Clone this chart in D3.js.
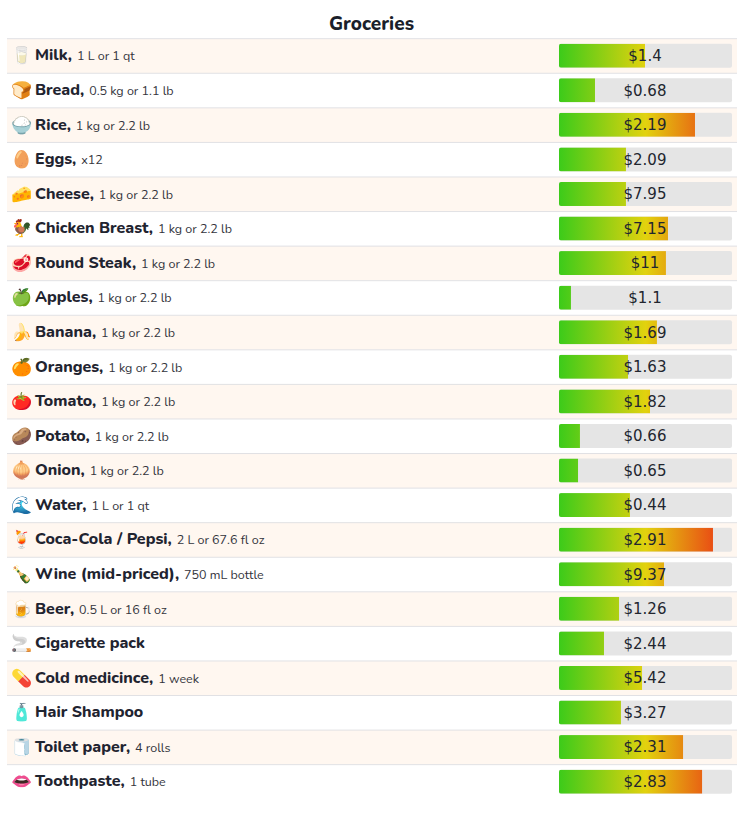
<!DOCTYPE html>
<html><head><meta charset="utf-8">
<script src="https://cdnjs.cloudflare.com/ajax/libs/d3/7.8.5/d3.min.js"></script>
<style>html,body{margin:0;padding:0;background:#fff}svg{display:block}</style>
</head><body><div id="c"></div>
<script>
const items = ["Milk","Bread","Rice","Eggs","Cheese","Chicken Breast","Round Steak","Apples","Banana","Oranges","Tomato","Potato","Onion","Water","Coca-Cola / Pepsi","Wine (mid-priced)","Beer","Cigarette pack","Cold medicince","Hair Shampoo","Toilet paper","Toothpaste"];
const units = ["1 L or 1 qt","0.5 kg or 1.1 lb","1 kg or 2.2 lb","x12","1 kg or 2.2 lb","1 kg or 2.2 lb","1 kg or 2.2 lb","1 kg or 2.2 lb","1 kg or 2.2 lb","1 kg or 2.2 lb","1 kg or 2.2 lb","1 kg or 2.2 lb","1 kg or 2.2 lb","1 L or 1 qt","2 L or 67.6 fl oz","750 mL bottle","0.5 L or 16 fl oz","","1 week","","4 rolls","1 tube"];
const icons = ["🥛","🍞","🍚","🥚","🧀","🐓","🥩","🍏","🍌","🍊","🍅","🥔","🧅","🌊","🍹","🍾","🍺","🚬","💊","🧴","🧻","👄"];
const prices = ["$1.4","$0.68","$2.19","$2.09","$7.95","$7.15","$11","$1.1","$1.69","$1.63","$1.82","$0.66","$0.65","$0.44","$2.91","$9.37","$1.26","$2.44","$5.42","$3.27","$2.31","$2.83"];
const fillPct = [49.7,20.8,78.6,38.7,38.7,63,61.8,6.9,56.6,39.9,52.6,12.1,11,41,89,60.7,34.7,26,48,35.8,71.7,82.7];
const gradColors = ["#3ccb1a","#e2d20e","#eb2a16"];
const gradStops = [0,0.5,1];

const W=745,H=813, rowH=34.57, tableTop=38.7, left=7, right=737, barX0=559, barX1=732;
const svg=d3.select("#c").append("svg").attr("width",W).attr("height",H);
const defs=svg.append("defs");
const grad=defs.append("linearGradient").attr("id","g").attr("gradientUnits","userSpaceOnUse").attr("x1",barX0).attr("x2",barX1).attr("y1",0).attr("y2",0);
grad.selectAll("stop").data(gradColors).join("stop").attr("offset",(d,i)=>gradStops[i]).attr("stop-color",d=>d);
defs.append("clipPath").attr("id","track").append("rect").attr("x",barX0).attr("y",5).attr("width",barX1-barX0).attr("height",24).attr("rx",2);
const y=d3.scaleBand().domain(d3.range(items.length)).range([tableTop,tableTop+rowH*items.length]);
const x=d3.scaleLinear().domain([0,100]).range([barX0,barX1]);
const font="Nunito, 'Noto Sans', sans-serif";
svg.append("text").attr("x",371.5).attr("y",30).attr("text-anchor","middle").attr("font-family",font).attr("font-size",19).attr("font-weight",800).attr("fill","#1a1f2b").text("Groceries");
const rows=svg.selectAll("g.r").data(items).join("g").attr("class","r").attr("transform",(d,i)=>`translate(0,${y(i)})`);
rows.append("rect").attr("x",left).attr("width",right-left).attr("height",rowH).attr("fill",(d,i)=>i%2?"#fff":"#fff7f0");
rows.append("line").attr("x1",left).attr("x2",right).attr("y1",0).attr("y2",0).attr("stroke","#e1e1e4").attr("stroke-width",1);
rows.append("text").attr("x",21.5).attr("y",rowH/2+5.5).attr("text-anchor","middle").attr("font-size",17).attr("font-family","'Noto Color Emoji',sans-serif").text((d,i)=>icons[i]);
const t=rows.append("text").attr("x",35).attr("y",rowH/2+4.5).attr("font-family",font).attr("fill","#1f2430");
t.append("tspan").attr("font-size",16).attr("font-weight",800).text((d,i)=>units[i]?d+",":d);
t.append("tspan").attr("dx",5).attr("font-size",12.5).attr("fill","#33343c").text((d,i)=>units[i]);
rows.append("rect").attr("x",barX0).attr("y",5).attr("width",barX1-barX0).attr("height",24).attr("rx",2).attr("fill","#e5e5e5");
rows.append("rect").attr("x",barX0).attr("y",5).attr("width",(d,i)=>x(fillPct[i])-barX0).attr("height",24).attr("fill","url(#g)").attr("clip-path","url(#track)");
rows.append("text").attr("x",645).attr("y",rowH/2+5).attr("text-anchor","middle").attr("font-family","'DejaVu Sans',sans-serif").attr("font-size",15).attr("fill","#22262f").text((d,i)=>prices[i]);
</script></body></html>
